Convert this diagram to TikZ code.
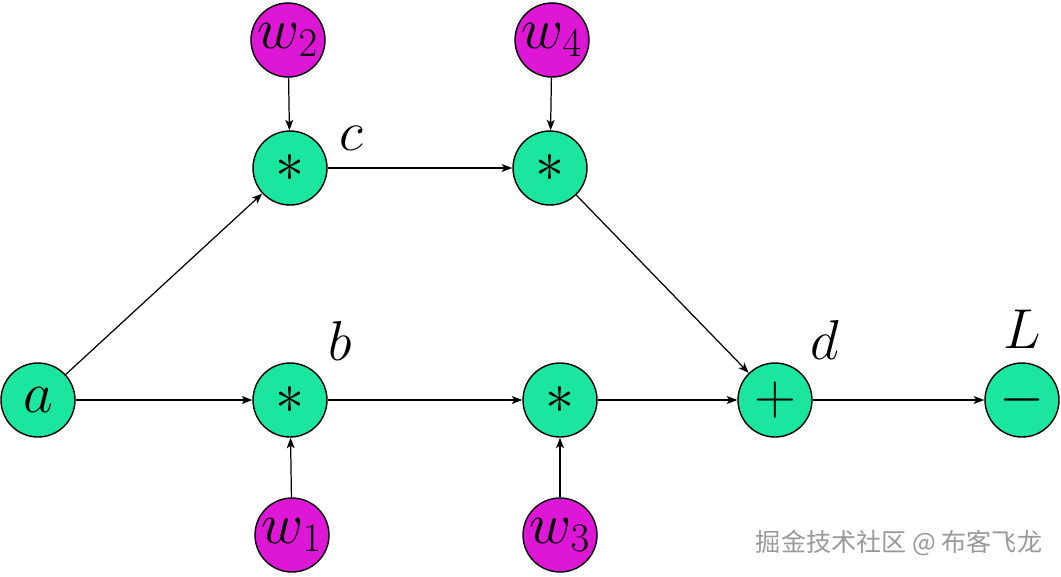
\RequirePackage{fix-cm}
\documentclass[tikz,border=0pt]{standalone}
\usepackage{amsmath,amssymb}
\usepackage{fontspec}
\usepackage{tikz}
\usetikzlibrary{arrows.meta}
\newfontfamily\cjk{Noto Sans CJK SC}
\definecolor{opgreen}{RGB}{26,230,160}
\definecolor{wmagenta}{RGB}{222,22,214}
\tikzset{
  opnode/.style={circle,draw=black,line width=0.8pt,fill=opgreen,minimum size=1.48cm,inner sep=0pt,font=\fontsize{33}{36}\selectfont},
  wnode/.style={opnode,fill=wmagenta},
  tag/.style={inner sep=0pt,font=\fontsize{32}{34}\selectfont},
  flow/.style={-{Stealth[length=6pt,width=4.5pt,inset=1.5pt]},line width=0.7pt}
}

\begin{document}
\begin{tikzpicture}[x=0.02cm,y=-0.02cm]
        \useasboundingbox (0,0) rectangle (1061,576);
        % input a
        \node[opnode] (a) at (38,400) {$a$};
        % weights
        \node[wnode] (w1) at (292,535) {$w_1$};
        \node[wnode] (w2) at (288,40) {$w_2$};
        \node[wnode] (w3) at (560,535) {$w_3$};
        \node[wnode] (w4) at (552,40) {$w_4$};
        % products
        \node[opnode] (mulb) at (290,400) {$*$};
        \node[opnode] (mulc) at (290,168) {$*$};
        \node[opnode] (multop) at (550,168) {$*$};
        \node[opnode] (mulbot) at (560,400) {$*$};
        % sum and loss
        \node[opnode] (add) at (775,400) {$+$};
        \node[opnode] (loss) at (1022,400) {$-$};
        % labels
        \node[tag] (lb) at (340,341) {$b$};
        \node[tag] (lc) at (351,138) {$c$};
        \node[tag] (ld) at (825,340) {$d$};
        \node[tag] (lL) at (1022,329) {$L$};
        % edges
        \draw[flow] (a) -- (mulb);
        \draw[flow] (a) -- (mulc);
        \draw[flow] (w1) -- (mulb);
        \draw[flow] (w2) -- (mulc);
        \draw[flow] (w3) -- (mulbot);
        \draw[flow] (w4) -- (multop);
        \draw[flow] (mulc) -- (multop);
        \draw[flow] (mulb) -- (mulbot);
        \draw[flow] (multop) -- (add);
        \draw[flow] (mulbot) -- (add);
        \draw[flow] (add) -- (loss);
        % watermark
        \node[text=black!40,font=\cjk\fontsize{14.3}{16}\selectfont] (wm) at (899,543) {掘金技术社区 @ 布客飞龙};
    \end{tikzpicture}
\end{document}
